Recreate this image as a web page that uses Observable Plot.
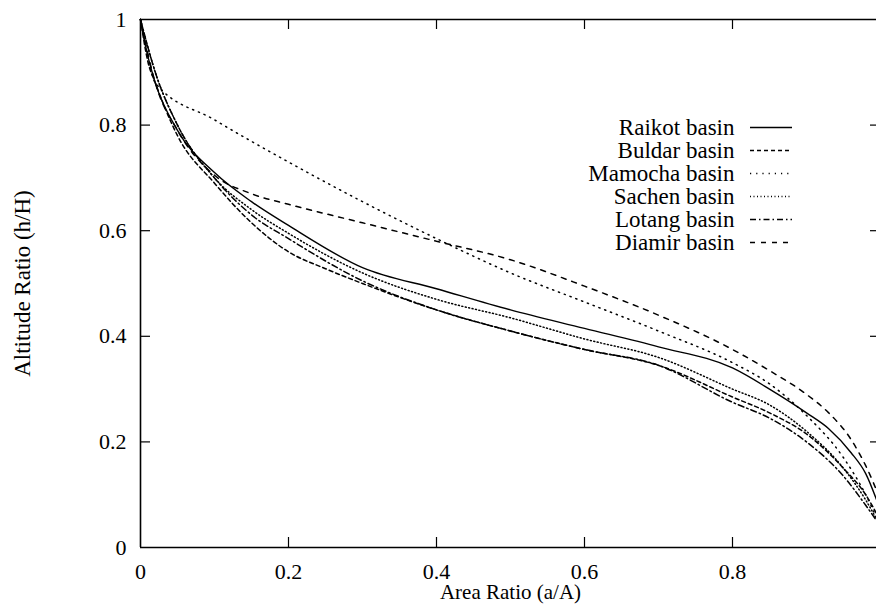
<!DOCTYPE html>
<html>
<head>
<meta charset="utf-8">
<script src="https://cdn.jsdelivr.net/npm/d3@7"></script>
<script src="https://cdn.jsdelivr.net/npm/@observablehq/plot@0.6"></script>
<style>
  html, body { margin: 0; padding: 0; background: #fff; }
  #chart svg { display: block; overflow: hidden; }
  #chart svg text { font-family: "Liberation Serif", "DejaVu Serif", serif; }
</style>
</head>
<body>
<div id="chart"></div>
<script>
// ---- data ----
const basins = ["Raikot basin", "Buldar basin", "Mamocha basin", "Sachen basin", "Lotang basin", "Diamir basin"];

const raikotX  = [0, 0.01, 0.02, 0.05, 0.1, 0.15, 0.2, 0.3, 0.4, 0.5, 0.6, 0.7, 0.8, 0.85, 0.9, 0.93, 0.96, 0.98, 1.0];
const raikotY  = [1.0, 0.93, 0.88, 0.79, 0.71, 0.655, 0.61, 0.53, 0.49, 0.45, 0.415, 0.38, 0.34, 0.30, 0.255, 0.225, 0.18, 0.14, 0.07];

const buldarX  = [0, 0.01, 0.02, 0.05, 0.1, 0.15, 0.2, 0.25, 0.3, 0.4, 0.5, 0.6, 0.7, 0.8, 0.85, 0.9, 0.95, 0.98, 1.0];
const buldarY  = [1.0, 0.92, 0.88, 0.78, 0.69, 0.615, 0.56, 0.528, 0.50, 0.45, 0.41, 0.375, 0.345, 0.285, 0.255, 0.215, 0.15, 0.10, 0.05];

const mamochaX = [0, 0.01, 0.02, 0.1, 0.2, 0.3, 0.4, 0.5, 0.6, 0.7, 0.8, 0.85, 0.9, 0.95, 0.98, 1.0];
const mamochaY = [1.0, 0.93, 0.88, 0.81, 0.73, 0.655, 0.585, 0.52, 0.465, 0.41, 0.35, 0.31, 0.25, 0.17, 0.10, 0.04];

const sachenX  = [0, 0.02, 0.05, 0.1, 0.15, 0.2, 0.3, 0.4, 0.5, 0.6, 0.7, 0.8, 0.85, 0.9, 0.95, 0.98, 1.0];
const sachenY  = [1.0, 0.90, 0.80, 0.70, 0.64, 0.595, 0.52, 0.47, 0.435, 0.395, 0.36, 0.30, 0.27, 0.22, 0.15, 0.09, 0.04];

const lotangX  = [0, 0.02, 0.05, 0.1, 0.15, 0.2, 0.3, 0.4, 0.5, 0.6, 0.7, 0.8, 0.85, 0.9, 0.95, 0.98, 1.0];
const lotangY  = [1.0, 0.90, 0.80, 0.70, 0.63, 0.585, 0.505, 0.45, 0.41, 0.375, 0.345, 0.275, 0.245, 0.20, 0.135, 0.08, 0.04];

const diamirX  = [0, 0.02, 0.05, 0.1, 0.15, 0.2, 0.3, 0.4, 0.5, 0.6, 0.7, 0.8, 0.85, 0.9, 0.93, 0.96, 0.98, 1.0];
const diamirY  = [1.0, 0.88, 0.79, 0.705, 0.67, 0.65, 0.615, 0.58, 0.545, 0.495, 0.44, 0.375, 0.335, 0.29, 0.255, 0.205, 0.155, 0.09];

const xTicks = [0, 0.2, 0.4, 0.6, 0.8];
const yTicks = [0, 0.2, 0.4, 0.6, 0.8, 1];
const xTickLabels = ["0", "0.2", "0.4", "0.6", "0.8"];
const yTickLabels = ["0", "0.2", "0.4", "0.6", "0.8", "1"];

// ---- styles ----
const dashes = ["none", "4,3", "1.2,5", "1,2.5", "6,3,1.5,3", "5,6"];
const font = "Liberation Serif, DejaVu Serif, serif";
const fs = 22;

const seriesX = [raikotX, buldarX, mamochaX, sachenX, lotangX, diamirX];
const seriesY = [raikotY, buldarY, mamochaY, sachenY, lotangY, diamirY];
const series = basins.map((name, k) => seriesX[k].map((x, i) => ({name, x, y: seriesY[k][i]})));

const W = 876, H = 605;
const xRange = [140, 880], yRange = [547, 19];
const pxX = (xRange[1] - xRange[0]), pxY = (yRange[0] - yRange[1]);

// legend rows (positions expressed through the scales)
const legend = basins.map((name, i) => ({name, i}));
const legX = (734 - xRange[0]) / pxX;
const legS0 = (750 - xRange[0]) / pxX, legS1 = (792 - xRange[0]) / pxX;
const legY = i => (yRange[0] - (127 + 23 * i)) / pxY;

const marks = [
  // frame
  Plot.ruleY([0, 1], {x1: 0, x2: 1, stroke: "#000", strokeWidth: 1.6}),
  Plot.ruleX([0, 1], {y1: 0, y2: 1, stroke: "#000", strokeWidth: 1.6}),
  // inward ticks
  Plot.ruleX(xTicks.slice(1), {x: d => d, y1: 0, y2: 0, insetTop: -10, stroke: "#000", strokeWidth: 1.2}),
  Plot.ruleX(xTicks.slice(1), {x: d => d, y1: 1, y2: 1, insetBottom: -10, stroke: "#000", strokeWidth: 1.2}),
  Plot.ruleY(yTicks.slice(1, -1), {y: d => d, x1: 0, x2: 0, insetRight: -10, stroke: "#000", strokeWidth: 1.2}),
  Plot.ruleY(yTicks.slice(1, -1), {y: d => d, x1: 1, x2: 1, insetLeft: -10, stroke: "#000", strokeWidth: 1.2}),
  // tick labels
  Plot.text(xTicks, {x: d => d, y: 0, dy: 24, text: (d, i) => xTickLabels[i], fontSize: fs, fontFamily: font, fill: "#000"}),
  Plot.text(yTicks, {x: 0, y: d => d, dx: -14, text: (d, i) => yTickLabels[i], textAnchor: "end", fontSize: fs, fontFamily: font, fill: "#000"}),
  // axis titles
  Plot.text(["Area Ratio (a/A)"], {x: 0.5, y: 0, dy: 45, text: d => d, fontSize: 21, fontFamily: font, fill: "#000"}),
  Plot.text(["Altitude Ratio (h/H)"], {x: 0, y: 0.5, dx: -118, text: d => d, rotate: -90, fontSize: 23, fontFamily: font, fill: "#000"}),
  // curves
  ...series.map((s, k) => Plot.line(s, {x: "x", y: "y", curve: "monotone-x", stroke: "#000", strokeWidth: k === 0 ? 1.4 : 1.5, strokeDasharray: dashes[k]})),
  // legend
  Plot.text(legend, {x: legX, y: d => legY(d.i), text: "name", textAnchor: "end", fontSize: 23, fontFamily: font, fill: "#000"}),
  ...legend.map(d => Plot.ruleY([legY(d.i)], {x1: legS0, x2: legS1, stroke: "#000", strokeWidth: 1.3, strokeDasharray: dashes[d.i]}))
];

const chart = Plot.plot({
  width: W,
  height: H,
  marginLeft: 0, marginRight: 0, marginTop: 0, marginBottom: 0,
  x: {domain: [0, 1], range: xRange, axis: null},
  y: {domain: [0, 1], range: yRange, axis: null},
  style: {background: "#fff", fontFamily: font},
  marks
});
document.getElementById("chart").appendChild(chart);
</script>
</body>
</html>
